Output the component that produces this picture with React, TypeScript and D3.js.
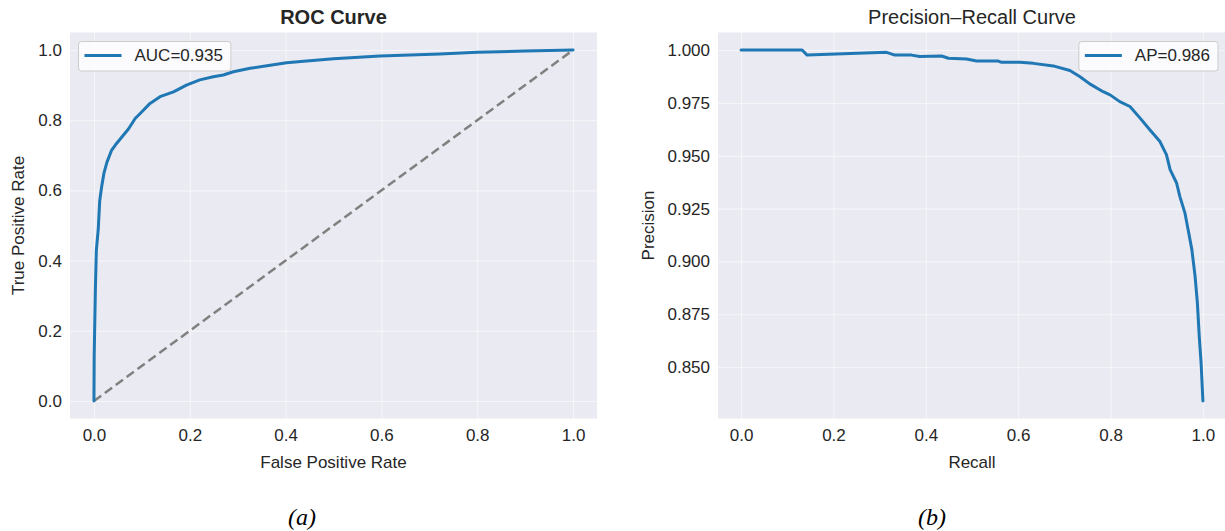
import { axisBottom, axisLeft, extent, format, line, scaleLinear, select } from "d3"
import { useEffect, useRef } from "react"

// ROC curve points
const rocFpr = [0, 0.0005, 0.003, 0.005, 0.009, 0.012, 0.016, 0.021, 0.027, 0.037, 0.045, 0.06, 0.072, 0.086, 0.097, 0.117, 0.138, 0.166, 0.193, 0.221, 0.249, 0.27, 0.291, 0.326, 0.361, 0.402, 0.444, 0.5, 0.597, 0.722, 0.8, 0.9, 1]
const rocTpr = [0, 0.13, 0.32, 0.43, 0.49, 0.57, 0.61, 0.65, 0.68, 0.715, 0.73, 0.755, 0.775, 0.805, 0.82, 0.848, 0.867, 0.881, 0.9, 0.915, 0.924, 0.929, 0.938, 0.948, 0.955, 0.964, 0.969, 0.975, 0.983, 0.989, 0.994, 0.997, 1]

// precision-recall points
const prRecall = [0, 0.132, 0.143, 0.315, 0.333, 0.369, 0.387, 0.434, 0.449, 0.488, 0.51, 0.557, 0.564, 0.604, 0.633, 0.676, 0.712, 0.734, 0.755, 0.784, 0.799, 0.82, 0.842, 0.864, 0.885, 0.907, 0.921, 0.929, 0.943, 0.95, 0.961, 0.968, 0.976, 0.983, 0.988, 0.992, 0.996, 1]
const prPrecision = [1, 1, 0.9976, 0.9989, 0.9976, 0.9976, 0.9969, 0.9972, 0.9961, 0.9958, 0.9948, 0.9948, 0.9942, 0.9942, 0.9937, 0.9925, 0.9903, 0.9874, 0.984, 0.9803, 0.9788, 0.9756, 0.9733, 0.9678, 0.9623, 0.9567, 0.9505, 0.9434, 0.9371, 0.9308, 0.923, 0.915, 0.9057, 0.8931, 0.8805, 0.8648, 0.8522, 0.834]

const unitTicks = [0, 0.2, 0.4, 0.6, 0.8, 1.0]
const precisionTicks = [0.85, 0.875, 0.9, 0.925, 0.95, 0.975, 1.0]
const chanceLine = [0, 1]

const blue = '#1f77b4'
const ink = '#262626'
const font = '"Liberation Sans", Arial, sans-serif'

const pad = (vals) => {
    const [lo, hi] = extent(vals)
    const m = (hi - lo) * 0.05
    return [lo - m, hi + m]
}

const drawPanel = (g, p) => {
    const x = scaleLinear().domain(pad(p.xs)).range([p.left, p.right])
    const y = scaleLinear().domain(pad(p.ys)).range([p.bottom, p.top])

    g.append('rect')
        .attr('x', p.left).attr('y', p.top)
        .attr('width', p.right - p.left).attr('height', p.bottom - p.top)
        .attr('fill', '#eaeaf2')

    const xa = g.append('g')
        .attr('transform', `translate(0,${p.bottom})`)
        .call(axisBottom(x).tickValues(unitTicks).tickFormat(format('.1f'))
            .tickSizeInner(-(p.bottom - p.top)).tickSizeOuter(0).tickPadding(10))
    const ya = g.append('g')
        .attr('transform', `translate(${p.left},0)`)
        .call(axisLeft(y).tickValues(p.yTicks).tickFormat(format(p.yFormat))
            .tickSizeInner(-(p.right - p.left)).tickSizeOuter(0).tickPadding(8))
    for (const a of [xa, ya]) {
        a.select('.domain').remove()
        a.selectAll('line').attr('stroke', '#ffffff').attr('stroke-width', 1).attr('stroke-opacity', 0.6)
        a.selectAll('text').attr('fill', ink).style('font-family', font).style('font-size', '17px')
    }

    if (p.diagonal) {
        g.append('path')
            .attr('d', line().x(d => x(d)).y(d => y(d))(chanceLine))
            .attr('fill', 'none').attr('stroke', '#808080')
            .attr('stroke-width', 2.5).attr('stroke-dasharray', '9,4.5')
    }

    g.append('path')
        .attr('d', line().x(i => x(p.xs[i])).y(i => y(p.ys[i]))(p.xs.map((_, i) => i)))
        .attr('fill', 'none').attr('stroke', blue)
        .attr('stroke-width', 3).attr('stroke-linejoin', 'round').attr('stroke-linecap', 'round')

    const cx = (p.left + p.right) / 2
    g.append('text')
        .attr('x', cx).attr('y', 24).attr('text-anchor', 'middle')
        .attr('fill', ink).style('font-family', font).style('font-size', '20px')
        .style('font-weight', p.boldTitle ? 'bold' : 'normal')
        .text(p.title)
    g.append('text')
        .attr('x', cx).attr('y', 468).attr('text-anchor', 'middle')
        .attr('fill', ink).style('font-family', font).style('font-size', '17px')
        .text(p.xLabel)
    g.append('text')
        .attr('transform', `translate(${p.yLabelX},${(p.top + p.bottom) / 2}) rotate(-90)`)
        .attr('text-anchor', 'middle').attr('dy', '0.35em')
        .attr('fill', ink).style('font-family', font).style('font-size', '17px')
        .text(p.yLabel)

    // legend
    const lg = g.append('g')
    const box = lg.append('rect')
        .attr('fill', '#ffffff').attr('fill-opacity', 0.8)
        .attr('stroke', '#cccccc').attr('stroke-width', 1).attr('rx', 3)
    const label = lg.append('text')
        .attr('fill', ink).style('font-family', font).style('font-size', '17px')
        .attr('dy', '0.35em')
        .text(p.legend)
    const tw = label.node().getComputedTextLength()
    const w = 6 + 37 + 13 + tw + 8
    const bx = p.legendRight ? p.right - 8 - w : p.left + 8.5
    const by = p.top + 9
    box.attr('x', bx).attr('y', by).attr('width', w).attr('height', 29.5)
    lg.append('line')
        .attr('x1', bx + 6).attr('x2', bx + 43).attr('y1', by + 14).attr('y2', by + 14)
        .attr('stroke', blue).attr('stroke-width', 3)
    label.attr('x', bx + 56).attr('y', by + 14)

    g.append('text')
        .attr('x', p.captionX).attr('y', 525).attr('text-anchor', 'middle')
        .attr('fill', '#000000').style('font-family', '"Liberation Serif", "Times New Roman", serif')
        .style('font-size', '24px').style('font-style', 'italic')
        .text(p.caption)
}

const App = () => {
    const ref = useRef()

    useEffect(() => {
        const svg = select(ref.current)
        svg.selectAll('*').remove()
        drawPanel(svg.append('g'), {
            xs: rocFpr, ys: rocTpr, left: 70, right: 597, top: 32.5, bottom: 418.5,
            yTicks: unitTicks, yFormat: '.1f', diagonal: true, boldTitle: true,
            title: 'ROC Curve', xLabel: 'False Positive Rate', yLabel: 'True Positive Rate',
            yLabelX: 18, legend: 'AUC=0.935', legendRight: false, caption: '(a)', captionX: 302
        })
        drawPanel(svg.append('g'), {
            xs: prRecall, ys: prPrecision, left: 718, right: 1226, top: 32.5, bottom: 418.5,
            yTicks: precisionTicks, yFormat: '.3f', diagonal: false, boldTitle: false,
            title: 'Precision\u2013Recall Curve', xLabel: 'Recall', yLabel: 'Precision',
            yLabelX: 648, legend: 'AP=0.986', legendRight: true, caption: '(b)', captionX: 932
        })
    }, [])

    return (
        <svg ref={ref} width={1225} height={531}
            style={{ position: 'absolute', left: 0, top: 0, background: '#ffffff' }} />
    )
}

export default App
